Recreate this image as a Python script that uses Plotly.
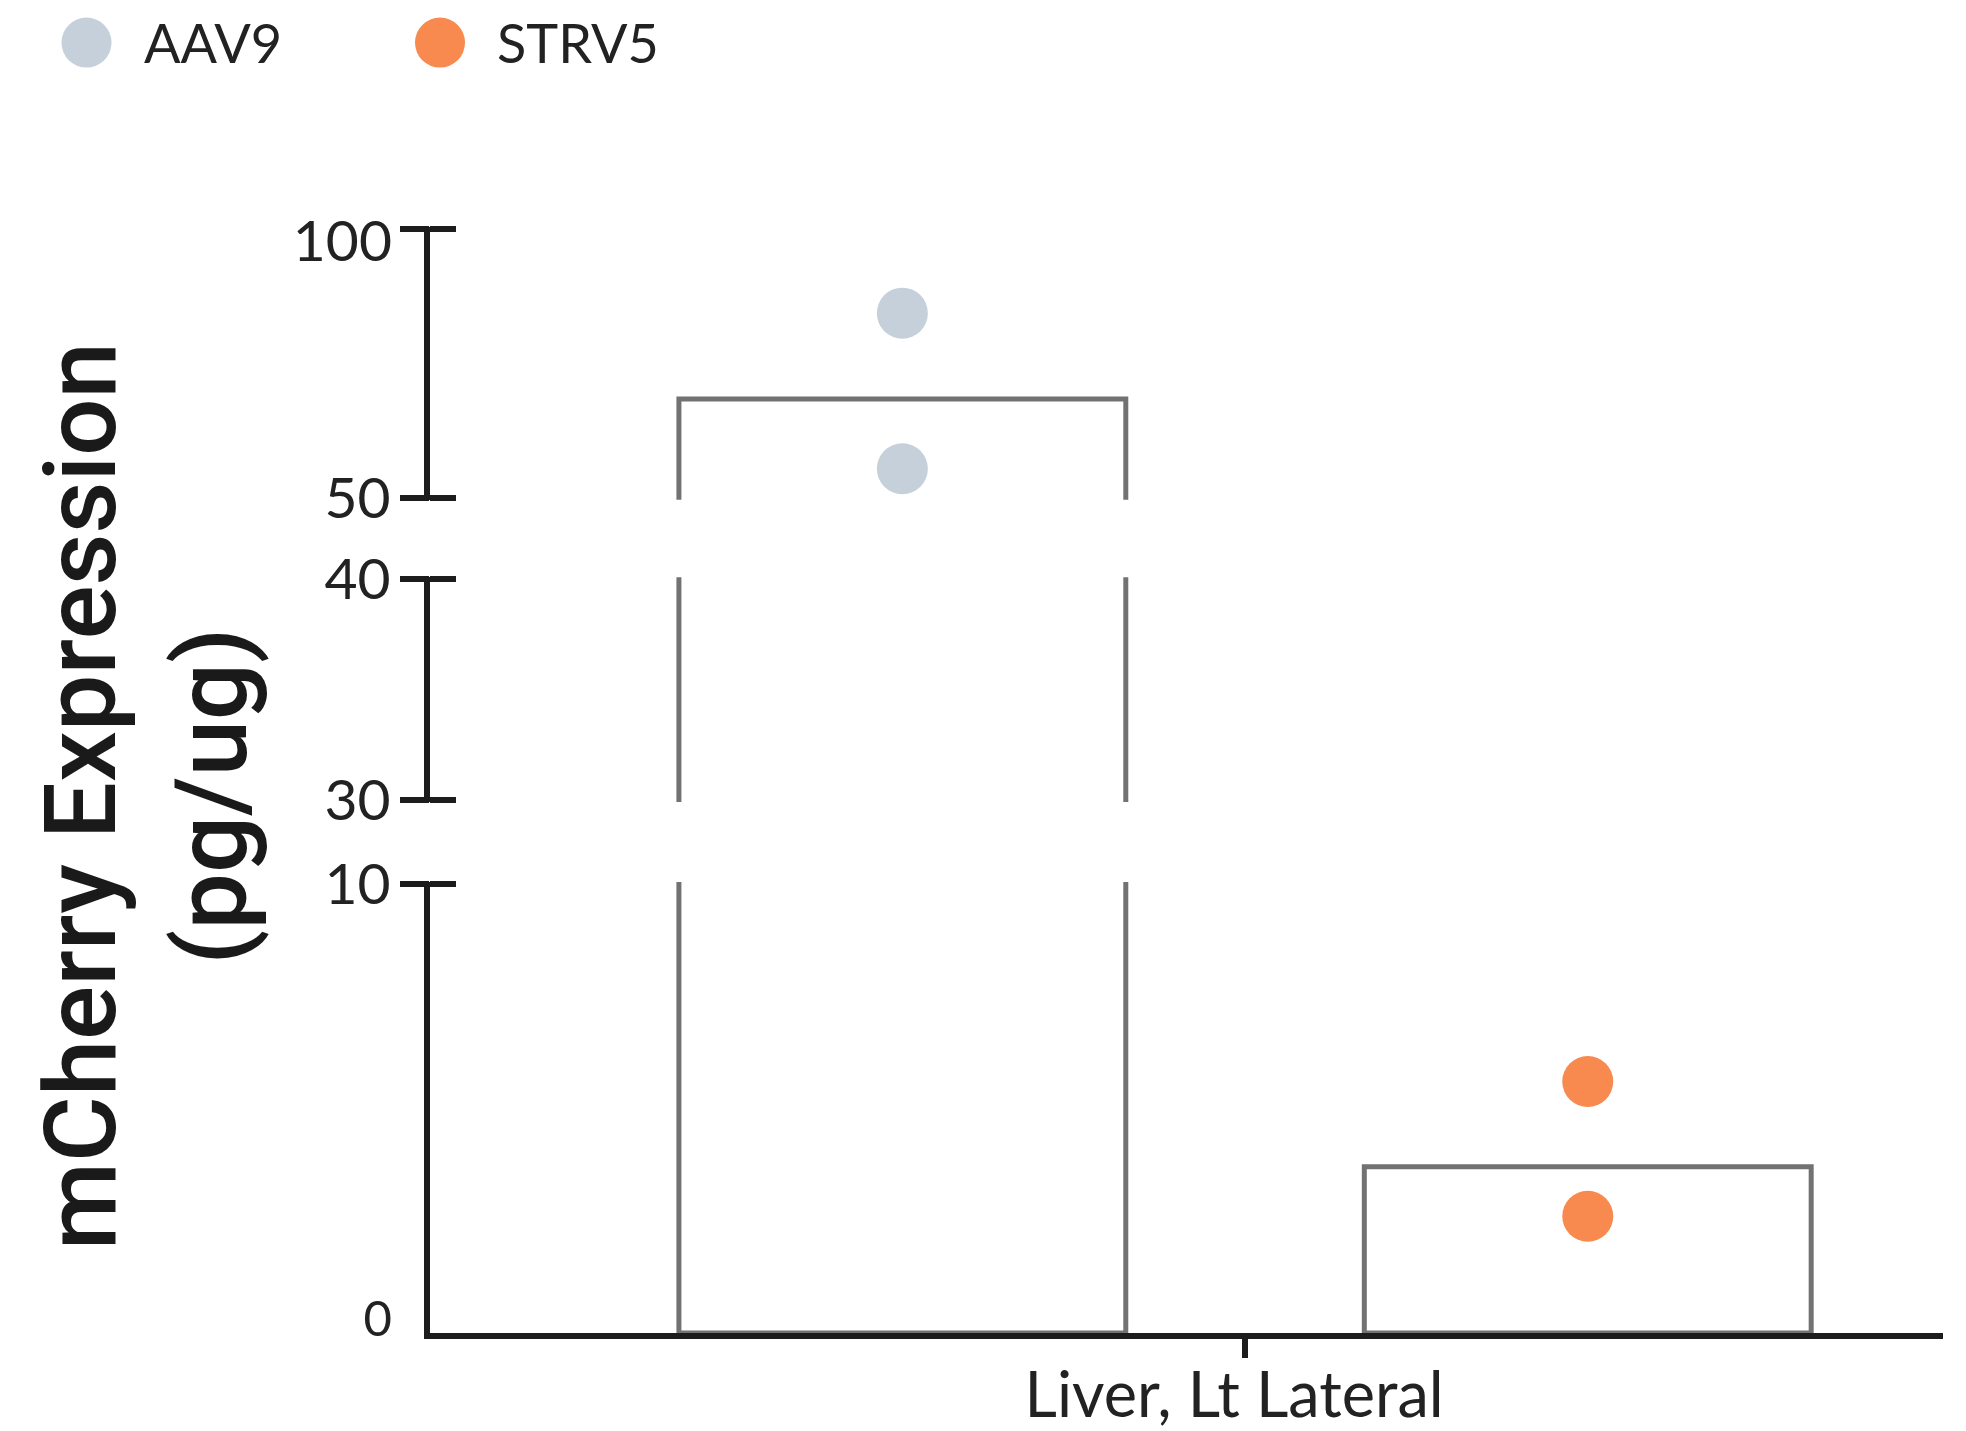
import plotly.graph_objects as go

# ---------------- data ----------------
categories = ["Liver, Lt Lateral"]
series_names = ["AAV9", "STRV5"]
bar_aav9 = [68.4]
bar_strv5 = [3.7]
points_aav9 = [84.4, 55.4]
points_strv5 = [5.6, 2.6]
series_colors = ["#C6D0DA", "#F8894F"]

# broken y-axis segments (bottom -> top)
seg_ranges = [[0, 10], [30, 40], [50, 100]]
seg_tickmarks = [[10], [30, 40], [50, 100]]
seg_main_labels = [[10], [30, 40], [50]]       # regular tick labels
seg_edge_labels = [[0], [], [100]]             # end labels drawn with an offset

y_title = "mCherry Expression<br>(pg/ug)"

# ---------------- layout geometry ----------------
W, H = 1966, 1431
L, R, T, B = 430, 23, 226, 98
PW, PH = W - L - R, H - T - B


def pxx(x):
    return (x - L) / PW


def pyy(y):
    return (H - B - y) / PH


# pixel rows of each segment's ends, and small paddings (px) so that
# the end ticks are not dropped by plotly's end-clipping of inside ticks
seg_px = [[1333, 884], [800, 579.3], [497.8, 229.4]]
pad_lo = [0, 2, 2]
pad_hi = [2, 2, 2]

seg_domains, seg_full_ranges = [], []
for (v0, v1), (p0, p1), a, b in zip(seg_ranges, seg_px, pad_lo, pad_hi):
    upp = (v1 - v0) / (p0 - p1)
    seg_full_ranges.append([v0 - a * upp, v1 + b * upp])
    seg_domains.append([max(0.0, pyy(p0 + a)), min(1.0, pyy(p1 - b))])

edge_shift = [-14, 0, 12]
edge_size = [49, 57, 57]

AXIS_COLOR = "#1c1c1c"
BAR_LINE = "#727272"
TEXT_COLOR = "#222222"
TICK_FONT = dict(family="Lato", size=57, color=TEXT_COLOR)
LW = 6

bars = {"AAV9": bar_aav9, "STRV5": bar_strv5}
pts = {"AAV9": points_aav9, "STRV5": points_strv5}
cols = dict(zip(series_names, series_colors))

fig = go.Figure()
base_axes = ["y", "y2", "y3"]
for ax in base_axes:
    for s in series_names:
        fig.add_trace(go.Bar(
            x=categories, y=bars[s], name=s, offsetgroup=s, yaxis=ax, xaxis="x",
            marker=dict(color="rgba(255,255,255,0)", line=dict(color=BAR_LINE, width=5)),
            showlegend=False, hoverinfo="skip",
        ))
    for s in series_names:
        fig.add_trace(go.Scatter(
            x=categories * len(pts[s]), y=pts[s], name=s, offsetgroup=s,
            yaxis=ax, xaxis="x", mode="markers",
            marker=dict(color=cols[s], size=51, line=dict(width=0)),
            showlegend=False,
        ))

# empty helper traces so the overlay axes get drawn
for k in range(4, 10):
    fig.add_trace(go.Scatter(x=categories, y=[None], yaxis=f"y{k}", xaxis="x",
                             mode="markers", showlegend=False, hoverinfo="skip"))

layout = dict(
    width=W, height=H,
    margin=dict(l=L, r=R, t=T, b=B, pad=0, autoexpand=False),
    paper_bgcolor="white", plot_bgcolor="white",
    barmode="group", bargap=0.094, bargroupgap=0.348,
    scattermode="group", scattergap=0.094,
    showlegend=False,
    xaxis=dict(
        type="category", range=[-0.5387, 0.4613], anchor="y", automargin=False,
        showline=True, linewidth=LW, linecolor=AXIS_COLOR,
        ticks="outside", ticklen=19, tickwidth=LW, tickcolor=AXIS_COLOR,
        tickfont=dict(family="Lato", size=63, color=TEXT_COLOR),
        ticklabelstandoff=-17, ticklabelshift=-11,
        showgrid=False, zeroline=False,
    ),
)

for i, ax in enumerate(base_axes):
    key = "yaxis" if i == 0 else f"yaxis{i + 1}"
    base_ref = "y" if i == 0 else f"y{i + 1}"
    # base axis: line, inside half of the cross ticks, regular labels
    layout[key] = dict(
        domain=seg_domains[i], range=seg_full_ranges[i], anchor="x", automargin=False,
        showline=True, linewidth=LW, linecolor=AXIS_COLOR,
        ticks="inside", ticklen=26, tickwidth=LW, tickcolor=AXIS_COLOR,
        tickvals=seg_tickmarks[i],
        ticktext=[str(v) if v in seg_main_labels[i] else "" for v in seg_tickmarks[i]],
        tickfont=TICK_FONT, ticklabelstandoff=22,
        showgrid=False, zeroline=False,
    )
    # outside half of the cross ticks
    layout[f"yaxis{i + 4}"] = dict(
        overlaying=base_ref, range=seg_full_ranges[i], anchor="x", automargin=False,
        showline=False, ticks="outside", ticklen=29, tickwidth=LW, tickcolor=AXIS_COLOR,
        tickvals=seg_tickmarks[i], showticklabels=False, showgrid=False, zeroline=False,
    )
    # end labels with their own offset / size
    layout[f"yaxis{i + 7}"] = dict(
        overlaying=base_ref, range=seg_full_ranges[i], anchor="x", automargin=False,
        showline=False, ticks="", tickvals=seg_edge_labels[i],
        ticktext=[str(v) for v in seg_edge_labels[i]],
        showticklabels=bool(seg_edge_labels[i]),
        tickfont=dict(family="Lato", size=edge_size[i], color=TEXT_COLOR),
        ticklabelshift=edge_shift[i], ticklabelstandoff=37,
        showgrid=False, zeroline=False,
    )

fig.update_layout(**layout)

# y-axis title
fig.add_annotation(
    text=y_title, xref="paper", yref="paper", x=pxx(146), y=pyy(796),
    xanchor="center", yanchor="middle", textangle=-90, showarrow=False,
    font=dict(family="Roboto", size=101, color="#1a1a1a", weight=500),
)

# custom legend (large markers)
legend_marker_x = [86.5, 440]
legend_text_x = [141.7, 495]
legend_y = 42.6
for s, c, mx, tx in zip(series_names, series_colors, legend_marker_x, legend_text_x):
    fig.add_shape(
        type="circle", xref="paper", yref="paper", xsizemode="pixel", ysizemode="pixel",
        xanchor=pxx(mx), yanchor=pyy(legend_y), x0=-25, x1=25, y0=-25, y1=25,
        fillcolor=c, line=dict(width=0),
    )
    fig.add_annotation(
        text=s, xref="paper", yref="paper", x=pxx(tx), y=pyy(legend_y),
        xanchor="left", yanchor="middle", showarrow=False,
        font=dict(family="Lato", size=54, color=TEXT_COLOR),
    )

fig.write_html("out.html")
